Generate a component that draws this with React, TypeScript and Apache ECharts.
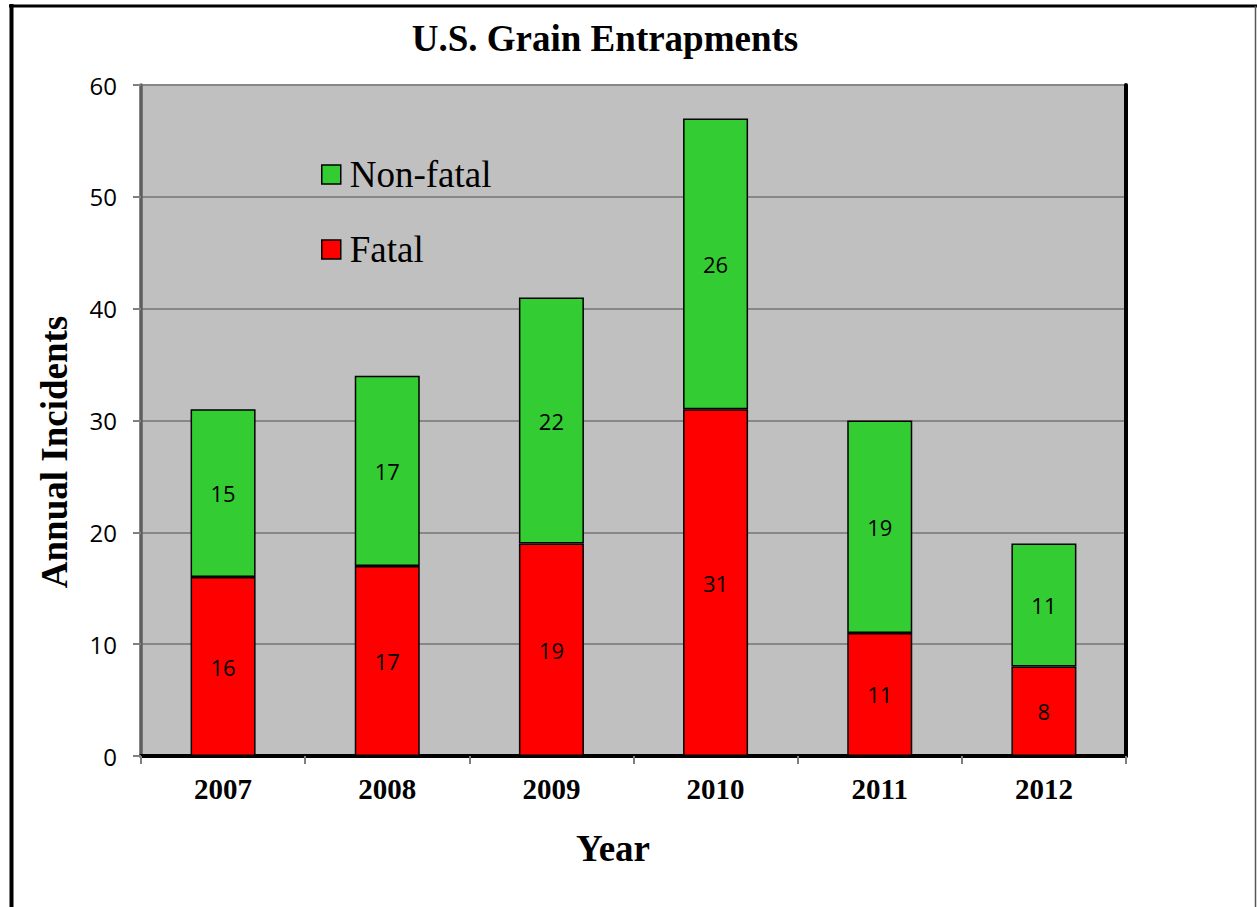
import React, { useEffect, useRef } from "react";
import * as echarts from "echarts";

const years = ["2007", "2008", "2009", "2010", "2011", "2012"];
const fatal = [16, 17, 19, 31, 11, 8];
const nonFatal = [15, 17, 22, 26, 19, 11];
const yTicks = { min: 0, max: 60, interval: 10 };

const SERIF = "'Liberation Serif', 'Times New Roman', serif";
const SANS = "'Open Sans', 'Liberation Sans', sans-serif";

export default function App() {
  const ref = useRef<HTMLDivElement>(null);
  useEffect(() => {
    document.body.style.margin = "0";
    const chart = echarts.init(ref.current!, null, { renderer: "svg" });
    const grid = { left: 141, right: 131, top: 85, bottom: 151 };
    chart.setOption({
      animation: false,
      backgroundColor: "#ffffff",
      grid: { ...grid, show: true, backgroundColor: "#C0C0C0", borderWidth: 0 },
      legend: {
        data: ["Non-fatal", "Fatal"],
        orient: "vertical",
        left: 321,
        top: 156,
        padding: 0,
        itemWidth: 19,
        itemHeight: 19,
        itemGap: 38,
        icon: "rect",
        textStyle: { fontFamily: SERIF, fontSize: 37, color: "#000", padding: [0, 0, 0, 4] },
        itemStyle: { borderColor: "#000", borderWidth: 1.5 },
      },
      xAxis: [
        {
          type: "category",
          data: years,
          axisLine: { lineStyle: { color: "#666666", width: 2.5 } },
          axisTick: { show: true, length: 8, lineStyle: { color: "#808080", width: 2 } },
          axisLabel: {
            fontFamily: SERIF,
            fontWeight: "bold",
            fontSize: 29,
            color: "#000",
            margin: 18,
          },
        },
        {
          type: "category",
          data: years,
          position: "top",
          axisLine: { lineStyle: { color: "#000", width: 4 } },
          axisTick: { show: false },
          axisLabel: { show: false },
        },
      ],
      yAxis: [
        {
          type: "value",
          min: yTicks.min,
          max: yTicks.max,
          interval: yTicks.interval,
          axisLine: { show: true, lineStyle: { color: "#5e5e5e", width: 3.5 } },
          axisTick: { show: true, length: 8, lineStyle: { color: "#808080", width: 2 } },
          splitLine: { lineStyle: { color: "#878787", width: 2 } },
          axisLabel: { fontFamily: SANS, fontSize: 24, color: "#000", margin: 24 },
        },
        {
          type: "value",
          min: yTicks.min,
          max: yTicks.max,
          interval: yTicks.interval,
          position: "right",
          axisLine: { show: true, lineStyle: { color: "#000", width: 4 } },
          axisTick: { show: false },
          axisLabel: { show: false },
          splitLine: { show: false },
        },
      ],
      series: [
        {
          name: "Fatal",
          type: "bar",
          stack: "total",
          barWidth: 65,
          data: fatal,
          itemStyle: { color: "#FF0000", borderColor: "#000", borderWidth: 1.5 },
          label: { show: true, position: "inside", fontFamily: SANS, fontSize: 22, color: "#000" },
        },
        {
          name: "Non-fatal",
          type: "bar",
          stack: "total",
          barWidth: 65,
          data: nonFatal,
          itemStyle: { color: "#33CC33", borderColor: "#000", borderWidth: 1.5 },
          label: { show: true, position: "inside", fontFamily: SANS, fontSize: 22, color: "#000" },
        },
      ],
      graphic: [
        { type: "line", shape: { x1: 11.5, y1: 4, x2: 11.5, y2: 907 }, style: { stroke: "#000", lineWidth: 4 } },
        { type: "line", shape: { x1: 9, y1: 6, x2: 1257, y2: 6 }, style: { stroke: "#000", lineWidth: 3 } },
        { type: "line", shape: { x1: 1255.5, y1: 6, x2: 1255.5, y2: 907 }, style: { stroke: "#555", lineWidth: 1.5 } },
        {
          type: "text",
          x: 605,
          y: 38,
          style: {
            text: "U.S. Grain Entrapments",
            fontFamily: SERIF,
            fontWeight: "bold",
            fontSize: 37,
            fill: "#000",
            textAlign: "center",
            textVerticalAlign: "middle",
          },
        },
        {
          type: "text",
          x: 613,
          y: 848,
          style: {
            text: "Year",
            fontFamily: SERIF,
            fontWeight: "bold",
            fontSize: 37,
            fill: "#000",
            textAlign: "center",
            textVerticalAlign: "middle",
          },
        },
        {
          type: "text",
          x: 54,
          y: 452,
          rotation: Math.PI / 2,
          style: {
            text: "Annual Incidents",
            fontFamily: SERIF,
            fontWeight: "bold",
            fontSize: 37,
            fill: "#000",
            textAlign: "center",
            textVerticalAlign: "middle",
          },
        },
      ],
    });
    return () => chart.dispose();
  }, []);
  return <div ref={ref} style={{ width: 1257, height: 907 }} />;
}
